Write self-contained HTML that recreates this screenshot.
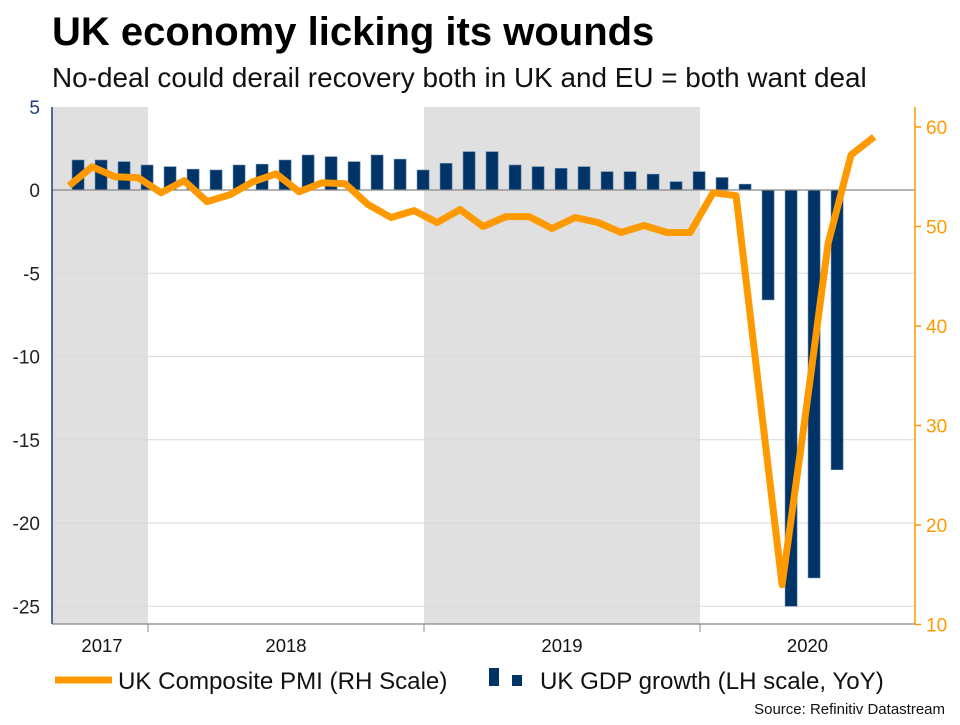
<!DOCTYPE html>
<html><head><meta charset="utf-8"><style>
body{margin:0;background:#fff;width:960px;height:720px;overflow:hidden;font-family:"Liberation Sans",sans-serif}
</style></head><body>
<svg width="960" height="720" xmlns="http://www.w3.org/2000/svg">
<text x="52" y="45" font-size="40" font-weight="bold" fill="#000">UK economy licking its wounds</text>
<text x="52" y="87" font-size="27.9" fill="#111">No-deal could derail recovery both in UK and EU = both want deal</text>
<g id="plot"></g>
<g>
<line x1="55" y1="680" x2="112" y2="680" stroke="#ff9900" stroke-width="7"/>
<text x="118" y="689" font-size="24.1" fill="#111">UK Composite PMI (RH Scale)</text>
<rect x="489" y="668" width="10" height="18" fill="#003366"/>
<rect x="512" y="675" width="10" height="11" fill="#003366"/>
<text x="540" y="689" font-size="24.1" fill="#111">UK GDP growth (LH scale, YoY)</text>
</g>
<text x="945" y="714" font-size="15" fill="#111" text-anchor="end">Source: Refinitiv Datastream</text>
</svg>
<script>
const gdpValues=[1.8,1.8,1.7,1.5,1.4,1.25,1.2,1.5,1.55,1.8,2.1,2.0,1.7,2.1,1.85,1.2,1.6,2.3,2.3,1.5,1.4,1.3,1.4,1.1,1.1,0.95,0.5,1.1,0.75,0.35,-6.6,-25,-23.3,-16.8];
const pmiValues=[54.1,56,55,54.9,53.4,54.6,52.5,53.2,54.5,55.3,53.5,54.4,54.3,52.2,50.9,51.6,50.4,51.7,50.0,51,51,49.8,50.9,50.4,49.4,50.1,49.4,49.4,53.4,53.1,33.5,14,30.8,48.3,57.2,59];
const leftTicks=[5,0,-5,-10,-15,-20,-25];
const rightTicks=[60,50,40,30,20,10];
const yearLabels=["2017","2018","2019","2020"];
const NS="http://www.w3.org/2000/svg";
const g=document.getElementById('plot');
const X0=52,X1=915,YT=107,YB=624;
const yL=v=>190-v*16.65;
const yR=v=>127+(60-v)*9.95;
const xT=t=>148+23*t; // t = months since Jan 2018
function mk(tag,attrs){const e=document.createElementNS(NS,tag);for(const k in attrs)e.setAttribute(k,attrs[k]);g.appendChild(e);return e;}
let e;
e=mk('rect',{x:X0,y:YT,width:xT(0)-X0,height:YB-YT,fill:'#e0e0e0'});


e=mk('rect',{x:xT(12),y:YT,width:xT(24)-xT(12),height:YB-YT,fill:'#e0e0e0'});


leftTicks.forEach(v=>{
  if(v!==0&&v!==5){e=mk('line',{x1:X0,x2:X1,y1:yL(v),y2:yL(v),stroke:'#d9d9d9','stroke-width':1});
  
  }
  e=mk('text',{x:40,y:yL(v)+7,'font-size':19,'text-anchor':'end',fill:v===5?'#1f3d7a':'#222'});
  e.textContent=v;
  
  
});
gdpValues.forEach((v,i)=>{
  const x=xT(i-3.04),y0=yL(0),y1=yL(v);
  e=mk('rect',{x:x-6,y:Math.min(y0,y1),width:12,height:Math.abs(y1-y0),fill:'#003366',stroke:'#5a7fa6','stroke-width':0.6});
  
  
});
e=mk('line',{x1:X0,x2:X1,y1:yL(0),y2:yL(0),stroke:'#888','stroke-width':1.2});


const pts=pmiValues.map((v,j)=>xT(j-3.43).toFixed(1)+','+yR(v).toFixed(1)).join(' ');
e=mk('polyline',{points:pts,fill:'none',stroke:'#ff9900','stroke-width':7,'stroke-linejoin':'round'});


e=mk('line',{x1:X0,x2:X0,y1:YT,y2:YB,stroke:'#1f3d7a','stroke-width':1.5});


e=mk('line',{x1:X1,x2:X1,y1:YT,y2:YB,stroke:'#ff9900','stroke-width':1.5});


e=mk('line',{x1:X0,x2:X1,y1:YB,y2:YB,stroke:'#888','stroke-width':1.2});


rightTicks.forEach(v=>{
  e=mk('line',{x1:X1,x2:X1+6,y1:yR(v),y2:yR(v),stroke:'#ff9900','stroke-width':1.5});
  
  
  e=mk('text',{x:926,y:yR(v)+7,'font-size':19,fill:'#ff9900'});
  e.textContent=v;
  
  
});
[0,12,24].forEach(t=>{
  e=mk('line',{x1:xT(t),x2:xT(t),y1:YB,y2:YB+8,stroke:'#888','stroke-width':1});
  
  
});
const yearX=[(X0+xT(0))/2+2,xT(6),xT(18),(xT(24)+X1)/2];
yearLabels.forEach((s,i)=>{
  e=mk('text',{x:yearX[i],y:652,'font-size':18.5,'text-anchor':'middle',fill:'#111'});
  e.textContent=s;
  
  
});
</script>
</body></html>
